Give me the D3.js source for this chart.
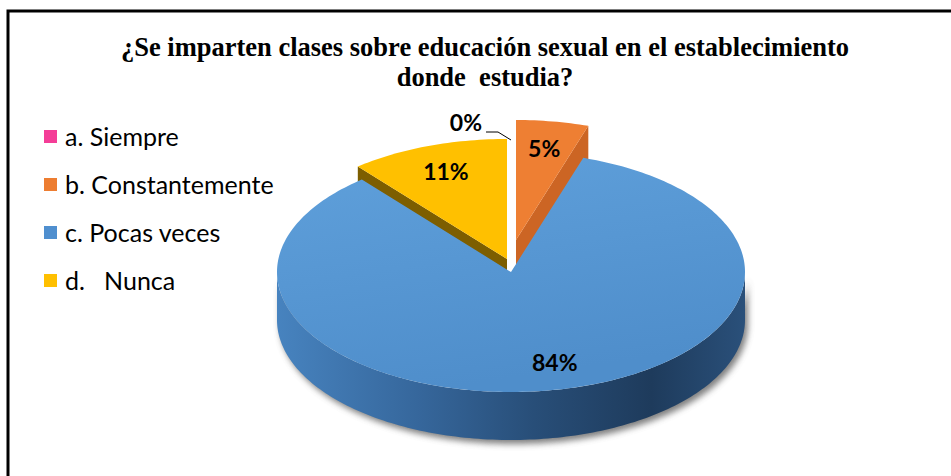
<!DOCTYPE html>
<html>
<head>
<meta charset="utf-8">
<script src="https://cdn.jsdelivr.net/npm/d3@7"></script>
<style>
  body { margin: 0; background: #fff; }
  text { white-space: pre; }
</style>
</head>
<body>
<svg width="951" height="476"></svg>
<script>
const svg = d3.select("svg");
const width = +svg.attr("width");
const height = +svg.attr("height");

// data
const categories = ["a. Siempre", "b. Constantemente", "c. Pocas veces", "d.   Nunca"];
const values = [0, 5, 84, 11];
const pctLabels = ["0%", "5%", "84%", "11%"];
const titleLines = ["¿Se imparten clases sobre educación sexual en el establecimiento", "donde  estudia?"];

const topColors = ["#f43d97", "#ee7f33", "#5b9bd5", "#ffc000"];
const sideColors = ["#b02a6a", "#cc6524", "#2c5885", "#7d5e00"];
const legendColors = ["#f43d97", "#ed7d31", "#4f8fcf", "#ffc000"];

// pie geometry
const cx = 511, cy = 272, rx = 234, ry = 120, depth = 48;
// per slice pull-out (screen px)
const pull = [[0, 0], [5, -32], [0, 0], [-4, -13]];

// frame
svg.append("path")
  .attr("d", `M8,${height} V11 H${width}`)
  .attr("fill", "none")
  .attr("stroke", "#000")
  .attr("stroke-width", 3);

// title
svg.append("g").selectAll("text")
  .data(titleLines)
  .enter()
  .append("text")
  .attr("x", 485)
  .attr("y", (d, i) => 56 + i * 30)
  .attr("text-anchor", "middle")
  .attr("font-family", "'Liberation Serif', 'Times New Roman', serif")
  .attr("font-weight", "bold")
  .attr("font-size", 26.5)
  .attr("fill", "#000")
  .text((d) => d);

// legend
const legendY = d3.scalePoint().domain(categories).range([137, 281]);
const legend = svg.append("g");
legend.selectAll("rect")
  .data(categories)
  .enter()
  .append("rect")
  .attr("x", 44)
  .attr("y", (d) => legendY(d) - 7)
  .attr("width", 13)
  .attr("height", 13)
  .attr("fill", (d, i) => legendColors[i]);
legend.selectAll("text")
  .data(categories)
  .enter()
  .append("text")
  .attr("x", 65)
  .attr("y", (d) => legendY(d) + 9)
  .attr("font-family", "Lato, 'Liberation Sans', sans-serif")
  .attr("font-size", 25)
  .attr("fill", "#000")
  .text((d) => d);

// 3d pie
const defs = svg.append("defs");
defs.append("filter").attr("id", "blur")
  .attr("x", "-20%").attr("y", "-20%").attr("width", "140%").attr("height", "140%")
  .append("feGaussianBlur").attr("stdDeviation", 3);

const wallGrad = defs.append("linearGradient").attr("id", "wallBlue")
  .attr("gradientUnits", "userSpaceOnUse")
  .attr("x1", cx - rx).attr("x2", cx + rx).attr("y1", 0).attr("y2", 0);
[["0", "#4783bf"], ["0.3", "#36679c"], ["0.55", "#284e78"], ["0.8", "#1e3b5c"], ["1", "#2a507a"]]
  .forEach(([o, c]) => wallGrad.append("stop").attr("offset", o).attr("stop-color", c));

const topGrad = defs.append("linearGradient").attr("id", "topBlue")
  .attr("x1", 0).attr("y1", 0).attr("x2", 0.3).attr("y2", 1);
[["0", "#5fa0db"], ["1", "#4f8ecb"]]
  .forEach(([o, c]) => topGrad.append("stop").attr("offset", o).attr("stop-color", c));

const slices = d3.pie().sort(null).value((d) => d)(values);

function proj(i, a, r, h) {
  return [cx + pull[i][0] + r * rx * Math.sin(a), cy + pull[i][1] - r * ry * Math.cos(a) + h];
}
function arcPts(i, a0, a1, h) {
  const n = Math.max(2, Math.ceil((a1 - a0) / 0.02));
  return d3.range(n + 1).map((k) => proj(i, a0 + ((a1 - a0) * k) / n, 1, h));
}
const line = d3.line();

function topPath(i, s) {
  return line([proj(i, 0, 0, 0), ...arcPts(i, s.startAngle, s.endAngle, 0)]) + "Z";
}
function wallPath(i, s) {
  const a0 = Math.max(s.startAngle, Math.PI / 2);
  const a1 = Math.min(s.endAngle, (3 * Math.PI) / 2);
  if (a1 <= a0) return null;
  return line([...arcPts(i, a0, a1, 0), ...arcPts(i, a0, a1, depth).reverse()]) + "Z";
}
function facePath(i, a) {
  return line([proj(i, 0, 0, 0), proj(i, a, 1, 0), proj(i, a, 1, depth), proj(i, 0, 0, depth)]) + "Z";
}

const pie = svg.append("g");
// back slices first, then the big front one
const order = [3, 1, 0, 2];
order.forEach((i) => {
  const s = slices[i];
  if (s.endAngle - s.startAngle <= 0) return;
  const g = pie.append("g");
  const wall = wallPath(i, s);
  if (wall) {
    g.append("path").attr("d", wall)
      .attr("transform", "translate(3,4)")
      .attr("fill", "#555").attr("opacity", 0.75)
      .attr("filter", "url(#blur)");
    g.append("path").attr("d", wall).attr("fill", i === 2 ? "url(#wallBlue)" : sideColors[i]);
  }
  if (Math.sin(s.startAngle) < -1e-6) {
    g.append("path").attr("d", facePath(i, s.startAngle)).attr("fill", sideColors[i]);
  }
  if (Math.sin(s.endAngle) > 1e-6) {
    g.append("path").attr("d", facePath(i, s.endAngle)).attr("fill", sideColors[i]);
  }
  g.append("path").attr("d", topPath(i, s)).attr("fill", i === 2 ? "url(#topBlue)" : topColors[i]);
});

// labels
const labelFont = "Lato, 'Liberation Sans', sans-serif";
slices.forEach((s, i) => {
  const mid = (s.startAngle + s.endAngle) / 2;
  if (s.value === 0) {
    const o = proj(i, mid, 1.1, 0);
    const p1 = [o[0] - 13, o[1] - 8];
    const p2 = [p1[0] - 12, p1[1]];
    pie.append("path")
      .attr("d", line([o, p1, p2]))
      .attr("fill", "none").attr("stroke", "#000").attr("stroke-width", 1);
    pie.append("text")
      .attr("x", p2[0] - 4).attr("y", p2[1] - 1)
      .attr("text-anchor", "end")
      .attr("font-family", labelFont).attr("font-weight", "bold").attr("font-size", 23)
      .text(pctLabels[i]);
    return;
  }
  const c = proj(i, mid, 0.77, 0);
  pie.append("text")
    .attr("x", c[0] + (i === 2 ? 10 : 0)).attr("y", c[1])
    .attr("dy", "0.36em")
    .attr("text-anchor", "middle")
    .attr("font-family", labelFont).attr("font-weight", "bold").attr("font-size", 23)
    .attr("fill", "#000")
    .text(pctLabels[i]);
});
</script>
</body>
</html>
